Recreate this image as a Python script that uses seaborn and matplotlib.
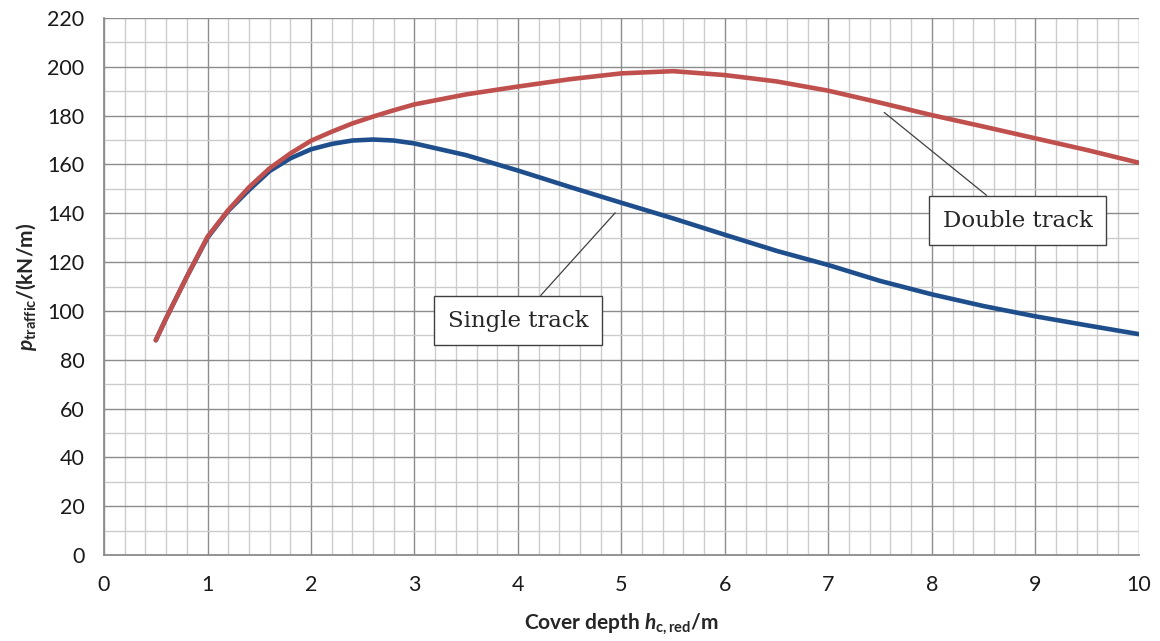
import matplotlib
matplotlib.use("Agg")
import matplotlib.pyplot as plt
from matplotlib.ticker import MultipleLocator
import pandas as pd
import seaborn as sns

# ---- data ----
depth = [0.5, 0.6, 0.8, 1.0, 1.2, 1.4, 1.6, 1.8, 2.0, 2.2, 2.4, 2.6, 2.8, 3.0,
         3.5, 4.0, 4.5, 5.0, 5.5, 6.0, 6.5, 7.0, 7.5, 8.0, 8.5, 9.0, 9.5, 10.0]
single_track = [88, 97, 114, 130, 141, 149.5, 157.3, 162.5, 166.2, 168.4, 169.8,
                170.2, 169.8, 168.6, 163.8, 157.5, 150.8, 144.3, 137.9, 131.2,
                124.6, 118.8, 112.3, 106.8, 102.0, 97.8, 94.1, 90.5]
double_track = [88, 97, 114, 130.4, 141.3, 150.6, 158.4, 164.5, 169.7, 173.4,
                176.8, 179.6, 182.2, 184.6, 188.7, 191.9, 194.9, 197.3, 198.2,
                196.6, 194.0, 190.2, 185.3, 180.2, 175.5, 170.7, 165.9, 160.7]
series_names = ["Single track", "Double track"]
series_colors = ["#1F4E8C", "#C0504D"]
x_ticks = list(range(0, 11))
y_ticks = list(range(0, 221, 20))

df = pd.DataFrame({
    "depth": depth * 2,
    "p": single_track + double_track,
    "series": [series_names[0]] * len(depth) + [series_names[1]] * len(depth),
})

sns.set_theme(style="white")
plt.rcParams["font.family"] = ["Lato", "DejaVu Sans"]
plt.rcParams["mathtext.fontset"] = "custom"
plt.rcParams["mathtext.it"] = "Lato:italic:bold"
plt.rcParams["mathtext.bf"] = "Lato:bold"
plt.rcParams["mathtext.rm"] = "Lato:bold"

fig = plt.figure(figsize=(11.6, 6.41), dpi=100)
ax = fig.add_axes([0.0897, 0.134, 0.892, 0.838])

sns.lineplot(data=df, x="depth", y="p", hue="series", hue_order=series_names,
             palette=series_colors, linewidth=3.3, legend=False, ax=ax,
             solid_capstyle="round", solid_joinstyle="round", zorder=3)

ax.set_xlim(0, 10)
ax.set_ylim(0, 220)
ax.set_xticks(x_ticks)
ax.set_yticks(y_ticks)
ax.xaxis.set_minor_locator(MultipleLocator(0.2))
ax.yaxis.set_minor_locator(MultipleLocator(10))
ax.grid(which="major", color="#8c8c8c", linewidth=1.0)
ax.grid(which="minor", color="#cccccc", linewidth=1.0)
ax.set_axisbelow(True)
for s in ["top", "right"]:
    ax.spines[s].set_visible(False)
for s in ["left", "bottom"]:
    ax.spines[s].set_color("#8c8c8c")
    ax.spines[s].set_linewidth(1.3)
ax.tick_params(which="major", direction="out", length=6, width=1,
               color="#8c8c8c", labelsize=15.5, labelcolor="#1a1a1a", pad=8)
ax.tick_params(which="minor", length=0)

ax.set_xlabel(r"Cover depth $\mathit{h}_{\mathbf{c,red}}$/m", fontsize=15,
              fontweight="bold", labelpad=12)
ax.set_ylabel(r"$\mathit{p}_{\mathbf{traffic}}$/(kN/m)", fontsize=15,
              fontweight="bold", labelpad=6)

box = dict(boxstyle="square,pad=0.6", fc="white", ec="#404040", lw=1.0)
arrow = dict(arrowstyle="-", color="#404040", lw=0.9, shrinkA=0, shrinkB=0)
ax.annotate(series_names[0], xy=(4.94, 140.2), xytext=(4.0, 96),
            ha="center", va="center", fontsize=16.5, family="DejaVu Serif",
            bbox=box, arrowprops=arrow, zorder=5)
ax.annotate(series_names[1], xy=(7.54, 181.3), xytext=(8.83, 137),
            ha="center", va="center", fontsize=16.5, family="DejaVu Serif",
            bbox=box, arrowprops=arrow, zorder=5)

fig.savefig("out.png", dpi=100)
